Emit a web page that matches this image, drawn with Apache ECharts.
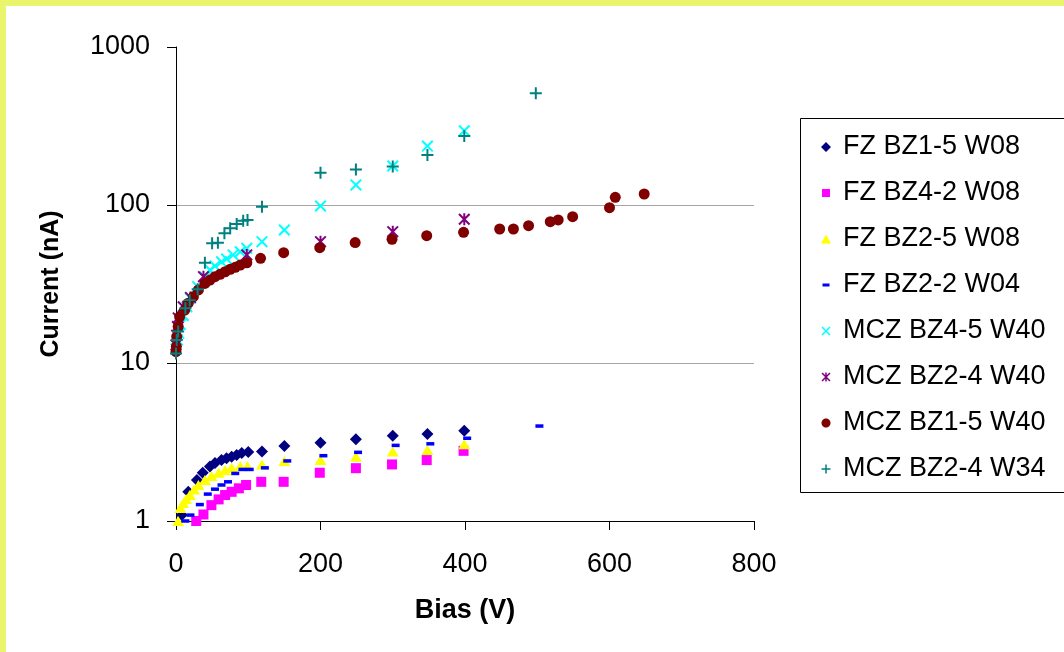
<!DOCTYPE html>
<html>
<head>
<meta charset="utf-8">
<script src="https://cdn.jsdelivr.net/npm/echarts@6/dist/echarts.min.js"></script>
<style>
html,body{margin:0;padding:0;background:#fff;}
#c{width:1064px;height:652px;}
</style>
</head>
<body>
<div id="c"></div>
<script>
// ---------- DATA ----------
const seriesNames = ['FZ BZ1-5 W08','FZ BZ4-2 W08','FZ BZ2-5 W08','FZ BZ2-2 W04',
  'MCZ BZ4-5 W40','MCZ BZ2-4 W40','MCZ BZ1-5 W40','MCZ BZ2-4 W34'];
const xTicks = [0, 200, 400, 600, 800];
const yTicks = [1, 10, 100, 1000];

const fzBz15W08 = [[8,1.09],[17,1.53],[29,1.82],[37,2.02],[47,2.21],[54,2.33],[63,2.43],[70,2.5],[77,2.55],[84,2.62],[91,2.69],[100,2.73],[119,2.75],[150,2.98],[200,3.13],[249,3.29],[300,3.47],[348,3.55],[399,3.73]];
const fzBz42W08 = [[28,1.0],[38,1.1],[49,1.26],[59,1.37],[68,1.46],[77,1.53],[87,1.61],[97,1.69],[118,1.77],[149,1.77],[199,2.02],[249,2.16],[299,2.28],[347,2.43],[398,2.78]];
const fzBz25W08 = [[3,1.0],[6,1.21],[10,1.3],[14,1.38],[19,1.46],[25,1.58],[31,1.69],[40,1.82],[49,1.93],[59,2.02],[68,2.1],[77,2.17],[89,2.23],[99,2.23],[119,2.28],[150,2.4],[200,2.43],[249,2.55],[300,2.75],[348,2.81],[399,3.06]];
const fzBz22W04 = [[13,1.0],[20,1.09],[33,1.27],[44,1.48],[54,1.59],[63,1.69],[72,1.77],[82,2.0],[92,2.12],[102,2.12],[123,2.17],[154,2.4],[204,2.59],[252,2.72],[304,3.01],[352,3.08],[403,3.34],[503,3.99]];
const mczBz45W40 = [[0,12.3],[2,14],[4,15.4],[6,17.5],[10,20],[15,22.7],[20,25.7],[30,30.4],[40,35],[47,38.8],[54,41.1],[63,43.7],[70,45.5],[79,48.3],[89,50.6],[98,53.2],[119,58.6],[150,69.5],[200,98.6],[249,134],[300,176.6],[348,236],[399,295]];
const mczBz24W40 = [[0,13],[1,15],[2,17],[3,19.3],[10,22.7],[20,26],[38,35.2],[98,48.3],[200,58.6],[300,67.8],[399,81.2]];
const mczBz15W40 = [[0,11.8],[0.5,12.7],[1,14.7],[3,17],[5,19.6],[12,21.6],[17,23.9],[24,26.3],[31,29],[40,31.9],[47,33.5],[54,35.2],[61,36.4],[68,37.8],[75,39.2],[82,40.3],[89,41.7],[98,43.1],[117,46],[149,49.9],[199,53.7],[248,57.8],[299,60.6],[347,63.9],[398,67.2],[448,70.5],[467,70.5],[488,74],[518,78.4],[529,80.4],[549,84.3],[600,96.2],[608,111.9],[648,117.4]];
const mczBz24W34 = [[0,11.5],[1,14],[3,15.8],[13,22.2],[19,25],[30,29.3],[40,43.1],[50,57.3],[58,57.7],[67,66.2],[75,71.3],[84,75.8],[93,79.5],[99,80.4],[119,97.5],[200,160],[249,168],[300,175],[348,207],[399,273],[498,509]];

// ---------- STYLE ----------
const FONT = 'Liberation Sans';
const colors = ['#000080','#FF00FF','#FFFF00','#0000FF','#00FFFF','#800080','#800000','#008080'];

// marker shapes in a 10x10 unit box
const DIAMOND = [[[5,0],[10,5],[5,10],[0,5]]];
const SQUARE = [[[0,0],[10,0],[10,10],[0,10]]];
const TRIANGLE = [[[5,0],[10,10],[0,10]]];
const DASH = [[[0,0],[10,0],[10,10],[0,10]]];
const XMARK = [[[0,1.18],[8.82,10],[10,8.82],[1.18,0]],[[8.82,0],[0,8.82],[1.18,10],[10,1.18]]];
const ASTER = XMARK.concat([[[4.17,0],[4.17,10],[5.83,10],[5.83,0]]]);
const PLUS = [[[4.17,0],[5.83,0],[5.83,4.17],[10,4.17],[10,5.83],[5.83,5.83],[5.83,10],[4.17,10],[4.17,5.83],[0,5.83],[0,4.17],[4.17,4.17]]];
const CIRCLE = [(function(){const a=[];for(let i=0;i<32;i++){const t=i/32*Math.PI*2;a.push([5+5*Math.cos(t),5+5*Math.sin(t)]);}return a;})()];

function polyPath(polys, sx, sy, ox, oy){
  return polys.map(p => 'M' + p.map(q => (ox+q[0]*sx).toFixed(2)+','+(oy+q[1]*sy).toFixed(2)).join('L') + 'Z').join('');
}
function symbolPath(polys){ return 'path://' + polyPath(polys,1,1,0,0); }
function legendIcon(polys, w, h){
  // 24x10 frame so the icon keeps its own size inside the legend item box
  return 'path://M0,0L0.01,0M24,10L23.99,10' + polyPath(polys, w/10, h/10, 12-w/2, 5-h/2);
}

const markerDefs = [
  {symbol:'diamond', size:12, icon:legendIcon(DIAMOND,10,10)},
  {symbol:'rect', size:10, icon:legendIcon(SQUARE,8,8)},
  {symbol:'triangle', size:[12,10], icon:legendIcon(TRIANGLE,10,9)},
  {symbol:'rect', size:[8,3.5], icon:legendIcon(DASH,7,3)},
  {symbol:symbolPath(XMARK), size:12, icon:legendIcon(XMARK,9,9)},
  {symbol:symbolPath(ASTER), size:12, icon:legendIcon(ASTER,9,9)},
  {symbol:'circle', size:11, icon:legendIcon(CIRCLE,9,9)},
  {symbol:symbolPath(PLUS), size:12, icon:legendIcon(PLUS,9,9)}
];
const seriesData = [fzBz15W08, fzBz42W08, fzBz25W08, fzBz22W04, mczBz45W40, mczBz24W40, mczBz15W40, mczBz24W34];

const chart = echarts.init(document.getElementById('c'), null, {renderer:'canvas'});
chart.setOption({
  animation: false,
  backgroundColor: '#ffffff',
  textStyle: {fontFamily: FONT},
  graphic: [
    {type:'rect', left:0, top:0, z:100, shape:{width:1064, height:6}, style:{fill:'#E9F56C'}},
    {type:'rect', left:0, top:0, z:100, shape:{width:6, height:652}, style:{fill:'#E9F56C'}},
    {type:'rect', x:800.5, y:118.5, z:5, silent:true, shape:{width:320, height:374}, style:{fill:'none', stroke:'#000', lineWidth:1}}
  ],
  grid: {left:176, top:47, width:578, height:474, containLabel:false},
  xAxis: {
    type:'value', min:xTicks[0], max:xTicks[xTicks.length-1], interval:200,
    name:'Bias (V)', nameLocation:'middle', nameGap:76,
    nameTextStyle:{fontFamily:FONT, fontSize:27, fontWeight:'bold', color:'#000'},
    axisLine:{show:true, onZero:false, lineStyle:{color:'#000', width:1}},
    axisTick:{show:true, inside:false, length:9, lineStyle:{color:'#000'}},
    axisLabel:{fontFamily:FONT, fontSize:27, color:'#000', margin:30, formatter: v => String(v)},
    splitLine:{show:false}
  },
  yAxis: {
    type:'log', logBase:10, min:yTicks[0], max:yTicks[yTicks.length-1],
    name:'Current (nA)', nameLocation:'middle', nameGap:112,
    nameTextStyle:{fontFamily:FONT, fontSize:25, fontWeight:'bold', color:'#000'},
    axisLine:{show:true, lineStyle:{color:'#000', width:1}},
    axisTick:{show:true, inside:false, length:9, lineStyle:{color:'#000'}},
    axisLabel:{fontFamily:FONT, fontSize:27, color:'#000', margin:26, formatter: v => String(Math.round(v))},
    splitLine:{show:true, showMinLine:false, showMaxLine:false, lineStyle:{color:'#a6a6a6', width:1}},
    minorTick:{show:false}
  },
  legend: {
    orient:'vertical', left:800, top:118,
    padding:[14, 4, 8, 14],
    itemWidth:24, itemHeight:10, itemGap:16,
    borderWidth:0,
    selectedMode:false,
    textStyle:{fontFamily:FONT, fontSize:27, color:'#000', lineHeight:30},
    data: seriesNames.map((n,i)=>({name:n, icon:markerDefs[i].icon}))
  },
  series: seriesNames.map((n,i)=>({
    name:n, type:'scatter',
    symbol:markerDefs[i].symbol, symbolSize:markerDefs[i].size,
    itemStyle:{color:colors[i], opacity:1},
    emphasis:{disabled:true},
    data: seriesData[i]
  }))
});
</script>
</body>
</html>
